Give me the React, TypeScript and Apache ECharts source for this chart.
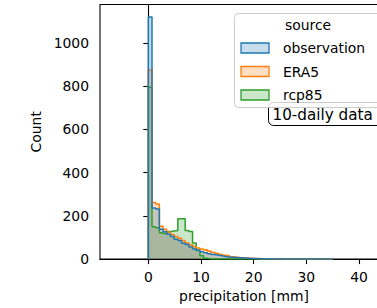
import React, { useEffect, useRef } from "react";
import * as echarts from "echarts";

// Histogram bins (precipitation in mm): first edge and common bin width
const BIN_START = 0;
const BIN_WIDTH = 0.7;

// Counts per bin
const observation = [
  1120, 236, 232, 138, 127, 115, 104, 92, 86, 73, 67, 56, 47, 40, 34, 29, 25, 21, 18, 15,
  12, 10, 8, 7, 6, 5, 4, 3, 3, 2, 2, 1, 2, 1, 1, 2, 1, 1, 1, 0,
  0, 0, 0, 0, 1, 1, 0, 1, 1, 0,
];
const era5 = [
  875, 262, 255, 152, 138, 125, 114, 104, 96, 86, 75, 66, 58, 51, 47, 43, 38, 32, 27, 22,
  18, 15, 11, 9, 7, 6, 5, 4, 3, 3, 2, 2, 2, 2, 1, 1, 1, 1, 1, 1,
  1, 1, 0, 0, 0, 0, 0, 0, 0, 0,
];
const rcp85 = [
  795, 150, 145, 122, 118, 128, 130, 132, 187, 187, 132, 128, 75, 42, 15, 4, 1, 0, 0, 0,
  0, 0, 0, 0, 0, 0, 0, 0, 0, 0, 0, 0, 0, 0, 0, 0, 0, 0, 0, 0,
  0, 0, 0, 0, 0, 0, 0, 0, 0, 0,
];

const seriesNames = ["observation", "ERA5", "rcp85"];
const seriesColors = ["#1f77b4", "#ff7f0e", "#2ca02c"];
const xTicks = [0, 10, 20, 30, 40];
const legendTitle = "source";
const annotation = "10-daily data";

const FONT = "DejaVu Sans";
const FS = 13.9;

function stepPoints(counts: number[]): number[][] {
  const pts: number[][] = [[BIN_START, 0]];
  counts.forEach((c, i) => {
    const l = BIN_START + i * BIN_WIDTH;
    const r = l + BIN_WIDTH;
    pts.push([l, c], [r, c]);
  });
  pts.push([BIN_START + counts.length * BIN_WIDTH, 0]);
  return pts;
}

function hexA(hex: string, a: number) {
  const n = parseInt(hex.slice(1), 16);
  return `rgba(${(n >> 16) & 255},${(n >> 8) & 255},${n & 255},${a})`;
}

export default function App() {
  const ref = useRef<HTMLDivElement>(null);
  useEffect(() => {
    if (!ref.current) return;
    const chart = echarts.init(ref.current, undefined, { renderer: "svg" });
    const data = [observation, era5, rcp85];
    const xMin = -9.17;
    const xMax = 45.5;
    // draw in reverse hue order so observation is on top
    const series = [2, 1, 0].map((k) => ({
      type: "line",
      name: seriesNames[k],
      data: stepPoints(data[k]),
      showSymbol: false,
      symbol: "none",
      lineStyle: { color: seriesColors[k], width: 1.5 },
      itemStyle: { color: seriesColors[k] },
      areaStyle: { color: seriesColors[k], opacity: 0.25 },
      clip: true,
    }));

    const legendX = 234;
    const legendItems: any[] = [];
    seriesNames.forEach((nm, i) => {
      const cy = 48 + i * 23.5;
      legendItems.push({
        type: "rect",
        z: 20,
        shape: { x: 241, y: cy - 5, width: 28, height: 10 },
        style: { fill: hexA(seriesColors[i], 0.25), stroke: seriesColors[i], lineWidth: 1.3 },
      });
      legendItems.push({
        type: "text",
        z: 20,
        x: 283,
        y: cy,
        style: { text: nm, fontFamily: FONT, fontSize: FS, fill: "#000", textVerticalAlign: "middle" },
      });
    });

    chart.setOption({
      animation: false,
      grid: {
        left: 100,
        top: 4.5,
        right: 1,
        bottom: 48.5,
        show: true,
        borderColor: "#000",
        borderWidth: 1.1,
        backgroundColor: "transparent",
      },
      xAxis: {
        type: "value",
        min: xMin,
        max: xMax,
        position: "bottom",
        name: "precipitation [mm]",
        nameLocation: "middle",
        nameGap: 29,
        nameTextStyle: { fontFamily: FONT, fontSize: FS, color: "#000" },
        axisLine: { show: true, onZero: false, lineStyle: { color: "#000", width: 1.1 } },
        axisTick: { show: true, length: 5, customValues: xTicks, lineStyle: { color: "#000", width: 1.1 } },
        axisLabel: { customValues: xTicks, margin: 11, fontFamily: FONT, fontSize: FS, color: "#000" },
        splitLine: { show: false },
      },
      yAxis: {
        type: "value",
        min: 0,
        max: 1178,
        interval: 200,
        name: "Count",
        nameLocation: "middle",
        nameGap: 54,
        nameTextStyle: { fontFamily: FONT, fontSize: FS, color: "#000" },
        axisLine: { show: true, lineStyle: { color: "#000", width: 1.1 } },
        axisTick: { show: true, length: 5, lineStyle: { color: "#000", width: 1.1 } },
        axisLabel: {
          margin: 11,
          showMaxLabel: false,
          formatter: (v: number) => String(v),
          fontFamily: FONT,
          fontSize: FS,
          color: "#000",
        },
        splitLine: { show: false },
      },
      series,
      graphic: [
        {
          type: "rect",
          z: 10,
          shape: { x: 268.5, y: 102.5, width: 130, height: 23, r: 5 },
          style: { fill: "#fff", stroke: "#000", lineWidth: 1 },
        },
        {
          type: "text",
          z: 11,
          x: 272.5,
          y: 114.5,
          style: { text: annotation, fontFamily: FONT, fontSize: 15.2, fill: "#000", textVerticalAlign: "middle" },
        },
        {
          type: "rect",
          z: 19,
          shape: { x: legendX + 0.5, y: 13.5, width: 147, height: 94, r: 4 },
          style: { fill: "rgba(255,255,255,0.8)", stroke: "#cccccc", lineWidth: 1 },
        },
        {
          type: "text",
          z: 20,
          x: 308,
          y: 25,
          style: {
            text: legendTitle,
            fontFamily: FONT,
            fontSize: FS,
            fill: "#000",
            textAlign: "center",
            textVerticalAlign: "middle",
          },
        },
        ...legendItems,
      ],
    } as any);
    return () => chart.dispose();
  }, []);
  return (
    <div style={{ position: "absolute", left: 0, top: 0, width: 377, height: 308, overflow: "hidden" }}>
      <div ref={ref} style={{ width: 389, height: 308 }} />
    </div>
  );
}
